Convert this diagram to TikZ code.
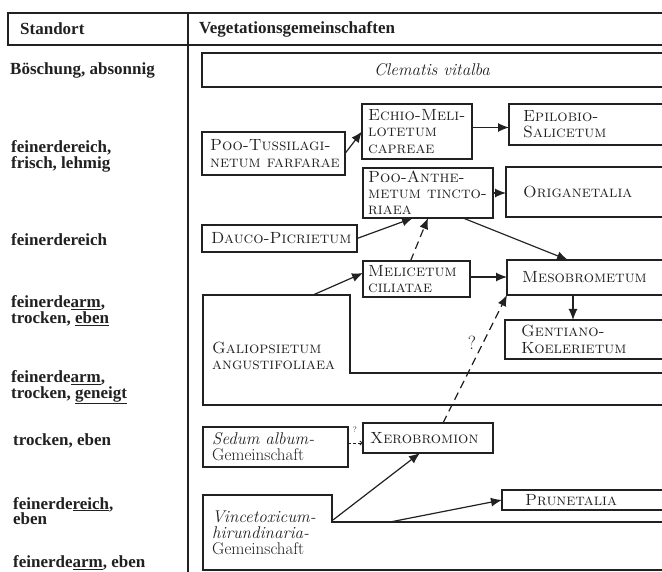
\documentclass[tikz,border=0pt]{standalone}
\usepackage{fontspec}
\newfontfamily\lsfont{Liberation Serif}
\usetikzlibrary{arrows.meta,calc}
\definecolor{ink}{gray}{0.13}
\begin{document}
\begin{tikzpicture}[x=1pt,y=-1pt,
  boxst/.style={draw=ink, line width=1.3pt, inner sep=0pt, outer sep=0pt, anchor=north west},
  boxline/.style={draw=ink, line width=1.3pt},
  lbl/.style={anchor=west, inner sep=0pt, align=left, text=ink,
    font=\lsfont\bfseries\fontsize{17}{15.8}\selectfont},
  sc/.style={anchor=west, inner sep=0pt, align=left, text=ink,
    font=\fontsize{16.2}{16.3}\selectfont\scshape},
  rm/.style={anchor=west, inner sep=0pt, align=left, text=ink,
    font=\fontsize{17}{16.2}\selectfont},
  arr/.style={draw=ink, line width=1.2pt, -{Latex[length=11pt,width=9pt]}},
  darr/.style={arr, dash pattern=on 8pt off 5pt},
]
\useasboundingbox (0,0) rectangle (662,572);
\fill[white] (0,0) rectangle (662,572);
\clip (0,0) rectangle (662,572);

% header and column divider
\draw[boxline] (670,13) -- (8,13) -- (8,45) -- (670,45);
\draw[draw=ink, line width=1.1pt] (188,13) -- (188,572);
\node[lbl] (h1) at (20,29) {Standort};
\node[lbl] (h2) at (199,29) {Vegetationsgemeinschaften};

% left column
\node[lbl] (s1) at (10,70) {Böschung, absonnig};
\node[lbl] (s2) at (11,156) {feinerdereich,\\frisch, lehmig};
\node[lbl] (s3) at (11,240) {feinerdereich};
\node[lbl] (s4) at (11,311) {feinerde\underline{arm},\\trocken, \underline{eben}};
\node[lbl] (s5) at (11,387) {feinerde\underline{arm},\\trocken, \underline{geneigt}};
\node[lbl] (s6) at (13,441) {trocken, eben};
\node[lbl] (s7) at (13,511) {feinerde\underline{reich},\\eben};
\node[lbl] (s8) at (13,563) {feinerde\underline{arm}, eben};

% boxes
\node[boxst, minimum width=468pt, minimum height=34pt] (clem) at (202,53) {};
\node[rm, anchor=center] (clemt) at (432,70) {\itshape Clematis vitalba};

\node[boxst, minimum width=143pt, minimum height=43pt] (pt) at (202,132) {};
\node[sc] (ptt) at (210,153.5) {Poo-Tussilagi-\\netum farfarae};

\node[boxst, minimum width=110pt, minimum height=55pt] (echio) at (362,104) {};
\node[sc] (echiot) at (368,131.5) {Echio-Meli-\\lotetum\\capreae};

\node[boxst, minimum width=161pt, minimum height=41pt] (epil) at (509,104) {};
\node[sc] (epilt) at (523,124.5) {Epilobio-\\Salicetum};

\node[boxst, minimum width=130pt, minimum height=50pt] (pa) at (363,168) {};
\node[sc] (pat) at (368,193) {Poo-Anthe-\\metum tincto-\\riaea};

\node[boxst, minimum width=164pt, minimum height=50pt] (orig) at (506,167) {};
\node[sc] (origt) at (523,192) {Origanetalia};

\node[boxst, minimum width=155pt, minimum height=27pt] (dauco) at (202,225) {};
\node[sc] (daucot) at (211,238.5) {Dauco-Picrietum};

\node[boxst, minimum width=107pt, minimum height=36pt] (meli) at (363,261) {};
\node[sc] (melit) at (368,279) {Melicetum\\ciliatae};

\node[boxst, minimum width=163pt, minimum height=35pt] (meso) at (507,260) {};
\node[sc] (mesot) at (522,277.5) {Mesobrometum};

\node[boxst, minimum width=165pt, minimum height=39pt] (gent) at (505,320) {};
\node[sc] (gentt) at (521,339.5) {Gentiano-\\Koelerietum};

% Galiopsietum (L-shaped field)
\draw[boxline] (670,373) -- (350,373) -- (350,295) -- (203,295) -- (203,405) -- (670,405);
\coordinate (galtop) at (313,295);
\node[sc] (galt) at (212,356) {Galiopsietum\\angustifoliaea};

\node[boxst, minimum width=145pt, minimum height=40pt] (sedum) at (203,427) {};
\node[rm] (sedumt) at (212,447) {{\itshape Sedum album-}\\Gemeinschaft};

\node[boxst, minimum width=130pt, minimum height=30pt] (xero) at (363,423) {};
\node[sc] (xerot) at (370,438) {Xerobromion};

% Vincetoxicum (L-shaped field)
\draw[boxline] (670,522) -- (332,522) -- (332,495) -- (203,495) -- (203,570) -- (670,570);
\coordinate (vinc) at (333,520);
\coordinate (vinl) at (390,522);
\node[rm] (vint) at (212,533) {{\itshape Vincetoxicum-}\\{\itshape hirundinaria-}\\Gemeinschaft};

\node[boxst, minimum width=168pt, minimum height=20pt] (pru) at (502,490) {};
\node[sc, anchor=center] (prut) at (571,500) {Prunetalia};

% connectors
\draw[arr] (pt.east) -- (echio.west);
\draw[arr] ([yshift=4pt]echio.east) -- ([yshift=4pt]echio.east -| epil.west);
\draw[arr] (pa.east) -- (pa.east -| orig.west);
\draw[arr] (dauco.east) -- ([xshift=-15pt]pa.south);
\draw[darr] ([xshift=-6pt]meli.north) -- (pa.south);
\draw[arr] ([xshift=-30pt]pa.south east) -- ([xshift=61pt]meso.north west);
\draw[arr] (galtop) -- ([yshift=6pt]meli.west);
\draw[arr] ([yshift=2pt]meli.east) -- ([yshift=2pt]meli.east -| meso.west);
\draw[arr] ([xshift=66pt]meso.south west) -- ([xshift=66pt]meso.south west |- gent.north);
\draw[darr] ([xshift=80pt]xero.north west) -- (meso.south west);
\node[text=ink, font=\fontsize{19}{19}\selectfont, inner sep=0pt] (q1) at (472,343) {?};
\draw[draw=ink, line width=0.9pt, dash pattern=on 3pt off 2pt, -{Straight Barb[length=2.5pt,width=4pt]}]
  ([yshift=4pt]sedum.east) -- ([yshift=4pt]sedum.east -| xero.west);
\node[text=ink, font=\fontsize{8}{8}\selectfont, inner sep=0pt] (q2) at (355,430) {?};
\draw[arr] (vinc) -- ([xshift=-8pt]xero.south);
\draw[arr] (vinl) -- (pru.west);
\end{tikzpicture}
\end{document}
